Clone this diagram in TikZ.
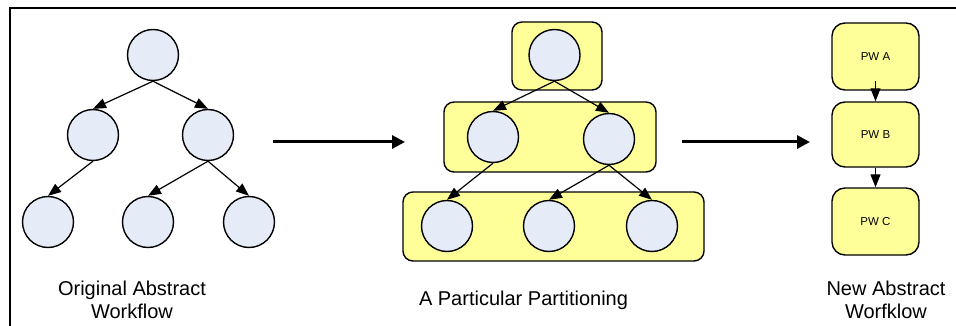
\documentclass[tikz,border=0pt]{standalone}
\usepackage{fontspec}
\setmainfont{Liberation Sans}
\usetikzlibrary{arrows.meta,positioning}
\definecolor{jobfill}{HTML}{E6ECF7}
\definecolor{partfill}{HTML}{FFFF99}
\tikzstyle{job}      = [circle, draw=black, line width=1.4pt, fill=jobfill, minimum size=51pt, inner sep=0pt]
\tikzstyle{part}     = [rectangle, rounded corners=10pt, draw=black, line width=1.4pt, fill=partfill, inner sep=0pt]
\tikzstyle{pw}       = [rectangle, rounded corners=13pt, draw=black, line width=1.4pt, fill=partfill, minimum width=87pt, inner sep=0pt, font=\fontsize{11.5}{13}\selectfont]
\tikzstyle{dep}      = [line width=1.2pt, -{Triangle[length=13pt,width=10pt]}]
\tikzstyle{bigarrow} = [line width=3pt, -{Triangle[length=13pt,width=13pt]}]
\tikzstyle{caption}  = [align=center, font=\fontsize{20}{23}\selectfont]

\begin{document}
\begin{tikzpicture}[x=1pt,y=-1pt]
		\useasboundingbox (0,0) rectangle (956,326);
		\draw[line width=2pt] (10,326) -- (10,8.5) -- (956,8.5);

		% original abstract workflow
		\node[job] (o1) at (153,55) {};
		\node[job] (o2) at (93,135) {};
		\node[job] (o3) at (208,135) {};
		\node[job] (o4) at (48,222) {};
		\node[job] (o5) at (148,222) {};
		\node[job] (o6) at (249,222) {};
		\draw[dep] (o1.south) -- (o2.north);
		\draw[dep] (o1.south) -- (o3.north);
		\draw[dep] (o2.south) -- (o4.north);
		\draw[dep] (o3.south) -- (o5.north);
		\draw[dep] (o3.south) -- (o6.north);
		\node[caption] (olabel) at (132,300) {Original Abstract\\Workflow};

		% partitioning
		\node[part, minimum width=90pt, minimum height=68pt] (p1) at (557,56) {};
		\node[part, minimum width=212pt, minimum height=70pt] (p2) at (550,137) {};
		\node[part, minimum width=301pt, minimum height=69pt] (p3) at (553.5,226.5) {};
		\node[job] (q1) at (554.5,55) {};
		\node[job] (q2) at (493,137) {};
		\node[job] (q3) at (609,139) {};
		\node[job] (q4) at (447,226) {};
		\node[job] (q5) at (549,226) {};
		\node[job] (q6) at (652,226) {};
		\draw[dep] (q1.south) -- (q2.north);
		\draw[dep] (q1.south) -- (q3.north);
		\draw[dep] (q2.south) -- (q4.north);
		\draw[dep] (q3.south) -- (q5.north);
		\draw[dep] (q3.south) -- (q6.north);
		\node[caption] (plabel) at (523.5,300) {A Particular Partitioning};

		% new abstract workflow
		\node[pw, minimum height=67pt] (pwa) at (875.5,56.5) {PW A};
		\node[pw, minimum height=65pt] (pwb) at (875.5,134.5) {PW B};
		\node[pw, minimum height=67pt] (pwc) at (875.5,221.5) {PW C};
		\draw[dep] ([yshift=10pt]pwa.south) -- (pwb.north);
		\draw[dep] (pwb.south) -- (pwc.north);
		\node[caption] (nlabel) at (886,300) {New Abstract\\Worfklow};

		% transformation arrows
		\coordinate (s1) at (273,142);
		\coordinate (e1) at (405,142);
		\coordinate (s2) at (682,142);
		\coordinate (e2) at (810,142);
		\draw[bigarrow] (s1) -- (e1);
		\draw[bigarrow] (s2) -- (e2);
	\end{tikzpicture}
\end{document}
